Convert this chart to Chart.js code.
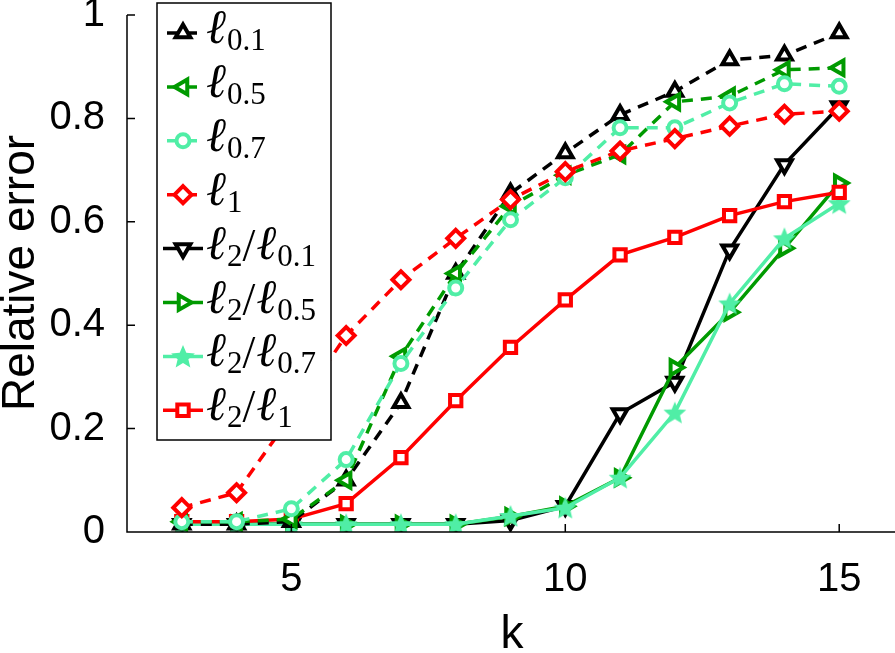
<!DOCTYPE html>
<html>
<head>
<meta charset="utf-8">
<script src="https://cdn.jsdelivr.net/npm/chart.js@4.4.1/dist/chart.umd.min.js"></script>
<style>
  body { margin: 0; background: #fff; }
  #wrap { width: 895px; height: 653px; }
</style>
</head>
<body>
<div id="wrap"><canvas id="myChart" width="895" height="653"></canvas></div>
<script>
// values
const kValues = [3, 4, 5, 6, 7, 8, 9, 10, 11, 12, 13, 14, 15];
const l01   = [0.015, 0.015, 0.02, 0.10, 0.25, 0.50, 0.655, 0.733, 0.807, 0.852, 0.913, 0.922, 0.965];
const l05   = [0.02, 0.02, 0.025, 0.10, 0.34, 0.50, 0.63, 0.69, 0.73, 0.832, 0.843, 0.894, 0.898];
const l07   = [0.02, 0.02, 0.045, 0.14, 0.326, 0.472, 0.604, 0.685, 0.782, 0.782, 0.83, 0.867, 0.862];
const l1    = [0.047, 0.076, 0.225, 0.38, 0.488, 0.568, 0.643, 0.697, 0.737, 0.761, 0.785, 0.808, 0.814];
const l2l01 = [0.015, 0.015, 0.015, 0.015, 0.015, 0.015, 0.022, 0.05, 0.229, 0.29, 0.546, 0.711, 0.823];
const l2l05 = [0.015, 0.015, 0.015, 0.015, 0.015, 0.015, 0.03, 0.05, 0.105, 0.318, 0.425, 0.549, 0.675];
const l2l07 = [0.015, 0.015, 0.015, 0.015, 0.015, 0.015, 0.031, 0.047, 0.105, 0.231, 0.442, 0.568, 0.636];
const l2l1  = [0.02, 0.02, 0.025, 0.055, 0.144, 0.254, 0.357, 0.449, 0.536, 0.57, 0.612, 0.639, 0.657];
const xTicks = [5, 10, 15];
const yTicks = [0, 0.2, 0.4, 0.6, 0.8, 1];

const BLACK = '#000000', GREEN = '#009a00', MINT = '#50eea6', RED = '#ff0000';
const DASH = [11, 8];

// filled five point star for the l2/l0.7 marker
function makeStar(size, color) {
    const c = document.createElement('canvas');
    c.width = size; c.height = size;
    const g = c.getContext('2d');
    drawStar(g, size / 2, size / 2 + 1, size / 2 - 1, color);
    return c;
}
function drawStar(g, cx, cy, R, color) {
    const r = R * 0.45;
    g.beginPath();
    for (let i = 0; i < 10; i++) {
        const a = -Math.PI / 2 + i * Math.PI / 5;
        const rr = i % 2 === 0 ? R : r;
        g.lineTo(cx + Math.cos(a) * rr, cy + Math.sin(a) * rr);
    }
    g.closePath();
    g.fillStyle = color;
    g.fill();
}
const starImg = makeStar(26, MINT);

const series = [
    { sub: ['0.1'], data: l01, color: BLACK, dash: true, marker: 'tri', rot: 0 },
    { sub: ['0.5'], data: l05, color: GREEN, dash: true, marker: 'tri', rot: -90 },
    { sub: ['0.7'], data: l07, color: MINT, dash: true, marker: 'circle' },
    { sub: ['1'], data: l1, color: RED, dash: true, marker: 'diamond' },
    { sub: ['2', '0.1'], data: l2l01, color: BLACK, dash: false, marker: 'tri', rot: 180 },
    { sub: ['2', '0.5'], data: l2l05, color: GREEN, dash: false, marker: 'tri', rot: 90 },
    { sub: ['2', '0.7'], data: l2l07, color: MINT, dash: false, marker: 'star' },
    { sub: ['2', '1'], data: l2l1, color: RED, dash: false, marker: 'square' }
];

function styleOf(s) {
    if (s.marker === 'tri') return { pointStyle: 'triangle', pointRotation: s.rot, pointRadius: 8.5 };
    if (s.marker === 'circle') return { pointStyle: 'circle', pointRotation: 0, pointRadius: 6.5 };
    if (s.marker === 'diamond') return { pointStyle: 'rectRot', pointRotation: 0, pointRadius: 8.5 };
    if (s.marker === 'square') return { pointStyle: 'rect', pointRotation: 0, pointRadius: 8 };
    return { pointStyle: starImg, pointRotation: 0, pointRadius: 10 };
}

// solid l2 series drawn first, dashed ones on top
const datasets = series.map((s, i) => Object.assign({
    label: s.sub.join('/'),
    data: kValues.map((k, j) => ({ x: k, y: s.data[j] })),
    order: -(i >= 4 ? i - 4 : i + 4),
    borderColor: s.color,
    backgroundColor: '#ffffff',
    pointBorderColor: s.color,
    pointBackgroundColor: '#ffffff',
    pointBorderWidth: 4,
    borderWidth: 3.5,
    borderDash: s.dash ? DASH : [],
    tension: 0
}, styleOf(s)));

// marker for the legend box
function legendMarker(ctx, s, x, y) {
    ctx.save();
    ctx.strokeStyle = s.color;
    ctx.fillStyle = '#fff';
    ctx.lineWidth = 4;
    ctx.setLineDash([]);
    ctx.beginPath();
    if (s.marker === 'tri') {
        let a = s.rot * Math.PI / 180;
        const r = 8.5;
        for (let i = 0; i < 3; i++) {
            ctx.lineTo(x + Math.sin(a) * r, y - Math.cos(a) * r);
            a += 2 * Math.PI / 3;
        }
        ctx.closePath();
    } else if (s.marker === 'circle') {
        ctx.arc(x, y, 6.5, 0, 2 * Math.PI);
    } else if (s.marker === 'diamond') {
        ctx.moveTo(x, y - 8.5); ctx.lineTo(x + 8.5, y); ctx.lineTo(x, y + 8.5); ctx.lineTo(x - 8.5, y);
        ctx.closePath();
    } else if (s.marker === 'square') {
        ctx.rect(x - 5.7, y - 5.7, 11.4, 11.4);
    }
    if (s.marker === 'star') {
        drawStar(ctx, x, y + 1, 12.5, s.color);
    } else {
        ctx.fill();
        ctx.stroke();
    }
    ctx.restore();
}

const BIG = 'italic 48px "Liberation Serif", "DejaVu Serif", serif';
const SMALL = '31px "Liberation Serif", "DejaVu Serif", serif';
const SLASH = '46px "Liberation Serif", "DejaVu Serif", serif';

const decorPlugin = {
    id: 'decor',
    afterDatasetsDraw(chart) {
        const ctx = chart.ctx;
        const a = chart.chartArea;
        const xs = chart.scales.x, ys = chart.scales.y;
        ctx.save();
        // axes with inward ticks
        ctx.strokeStyle = '#000';
        ctx.lineWidth = 1.5;
        ctx.beginPath();
        ctx.moveTo(a.left, ys.getPixelForValue(1));
        ctx.lineTo(a.left, a.bottom);
        ctx.lineTo(chart.width, a.bottom);
        yTicks.forEach(v => {
            const py = ys.getPixelForValue(v);
            ctx.moveTo(a.left, py); ctx.lineTo(a.left + 8, py);
        });
        xTicks.forEach(v => {
            const px = xs.getPixelForValue(v);
            ctx.moveTo(px, a.bottom); ctx.lineTo(px, a.bottom - 8);
        });
        ctx.stroke();

        // legend
        const bx = 157, by = 3, bw = 174, bh = 437;
        ctx.fillStyle = '#fff';
        ctx.fillRect(bx, by, bw, bh);
        ctx.lineWidth = 1.5;
        ctx.strokeRect(bx, by, bw, bh);
        series.forEach((s, i) => {
            const cy = 33 + i * 53.9;
            ctx.strokeStyle = s.color;
            ctx.lineWidth = 3.5;
            ctx.setLineDash(s.dash ? DASH : []);
            ctx.lineDashOffset = s.dash ? -4 : 0;
            ctx.beginPath();
            ctx.moveTo(163, cy); ctx.lineTo(203, cy);
            ctx.stroke();
            ctx.setLineDash([]);
            legendMarker(ctx, s, 183, cy);

            ctx.fillStyle = '#000';
            ctx.textBaseline = 'alphabetic';
            ctx.textAlign = 'left';
            let tx = 206;
            s.sub.forEach((sub, j) => {
                if (j > 0) {
                    ctx.font = SLASH;
                    ctx.fillText('/', tx, cy + 12);
                    tx += ctx.measureText('/').width + 1;
                }
                ctx.font = BIG;
                ctx.fillText('ℓ', tx, cy + 10);
                tx += ctx.measureText('ℓ').width + 1;
                ctx.font = SMALL;
                ctx.fillText(sub, tx, cy + 17);
                tx += ctx.measureText(sub).width;
            });
        });

        // axis titles
        ctx.fillStyle = '#000';
        ctx.font = '46px "Liberation Sans", Arial, sans-serif';
        ctx.textAlign = 'center';
        ctx.textBaseline = 'alphabetic';
        ctx.fillText('k', 512, 648);
        ctx.translate(34, 273);
        ctx.rotate(-Math.PI / 2);
        ctx.fillText('Relative error', 0, 0);
        ctx.restore();
    }
};

const config = {
    type: 'line',
    data: { datasets: datasets },
    options: {
        responsive: false,
        animation: false,
        layout: { autoPadding: false, padding: { left: 0, right: 1, top: 15, bottom: 0 } },
        plugins: { legend: { display: false }, tooltip: { enabled: false } },
        scales: {
            x: {
                type: 'linear',
                min: 2,
                max: 16,
                afterBuildTicks: s => { s.ticks = xTicks.map(v => ({ value: v })); },
                afterFit: s => { s.height = 121; s.paddingLeft = 0; s.paddingRight = 0; },
                grid: { display: false },
                border: { display: false },
                ticks: {
                    color: '#000',
                    padding: 16,
                    maxRotation: 0,
                    font: { family: '"Liberation Sans", Arial, sans-serif', size: 40 }
                }
            },
            y: {
                min: 0,
                max: 1,
                afterBuildTicks: s => { s.ticks = yTicks.map(v => ({ value: v })); },
                afterFit: s => { s.width = 127; s.paddingTop = 0; s.paddingBottom = 0; },
                grid: { display: false },
                border: { display: false },
                ticks: {
                    color: '#000',
                    padding: 14,
                    callback: v => String(Math.round(v * 10) / 10),
                    font: { family: '"Liberation Sans", Arial, sans-serif', size: 40 }
                }
            }
        }
    },
    plugins: [decorPlugin]
};

document.addEventListener("DOMContentLoaded", () => {
    const ctx = document.getElementById('myChart').getContext('2d');
    const myChart = new Chart(ctx, config);
});
</script>
</body>
</html>
